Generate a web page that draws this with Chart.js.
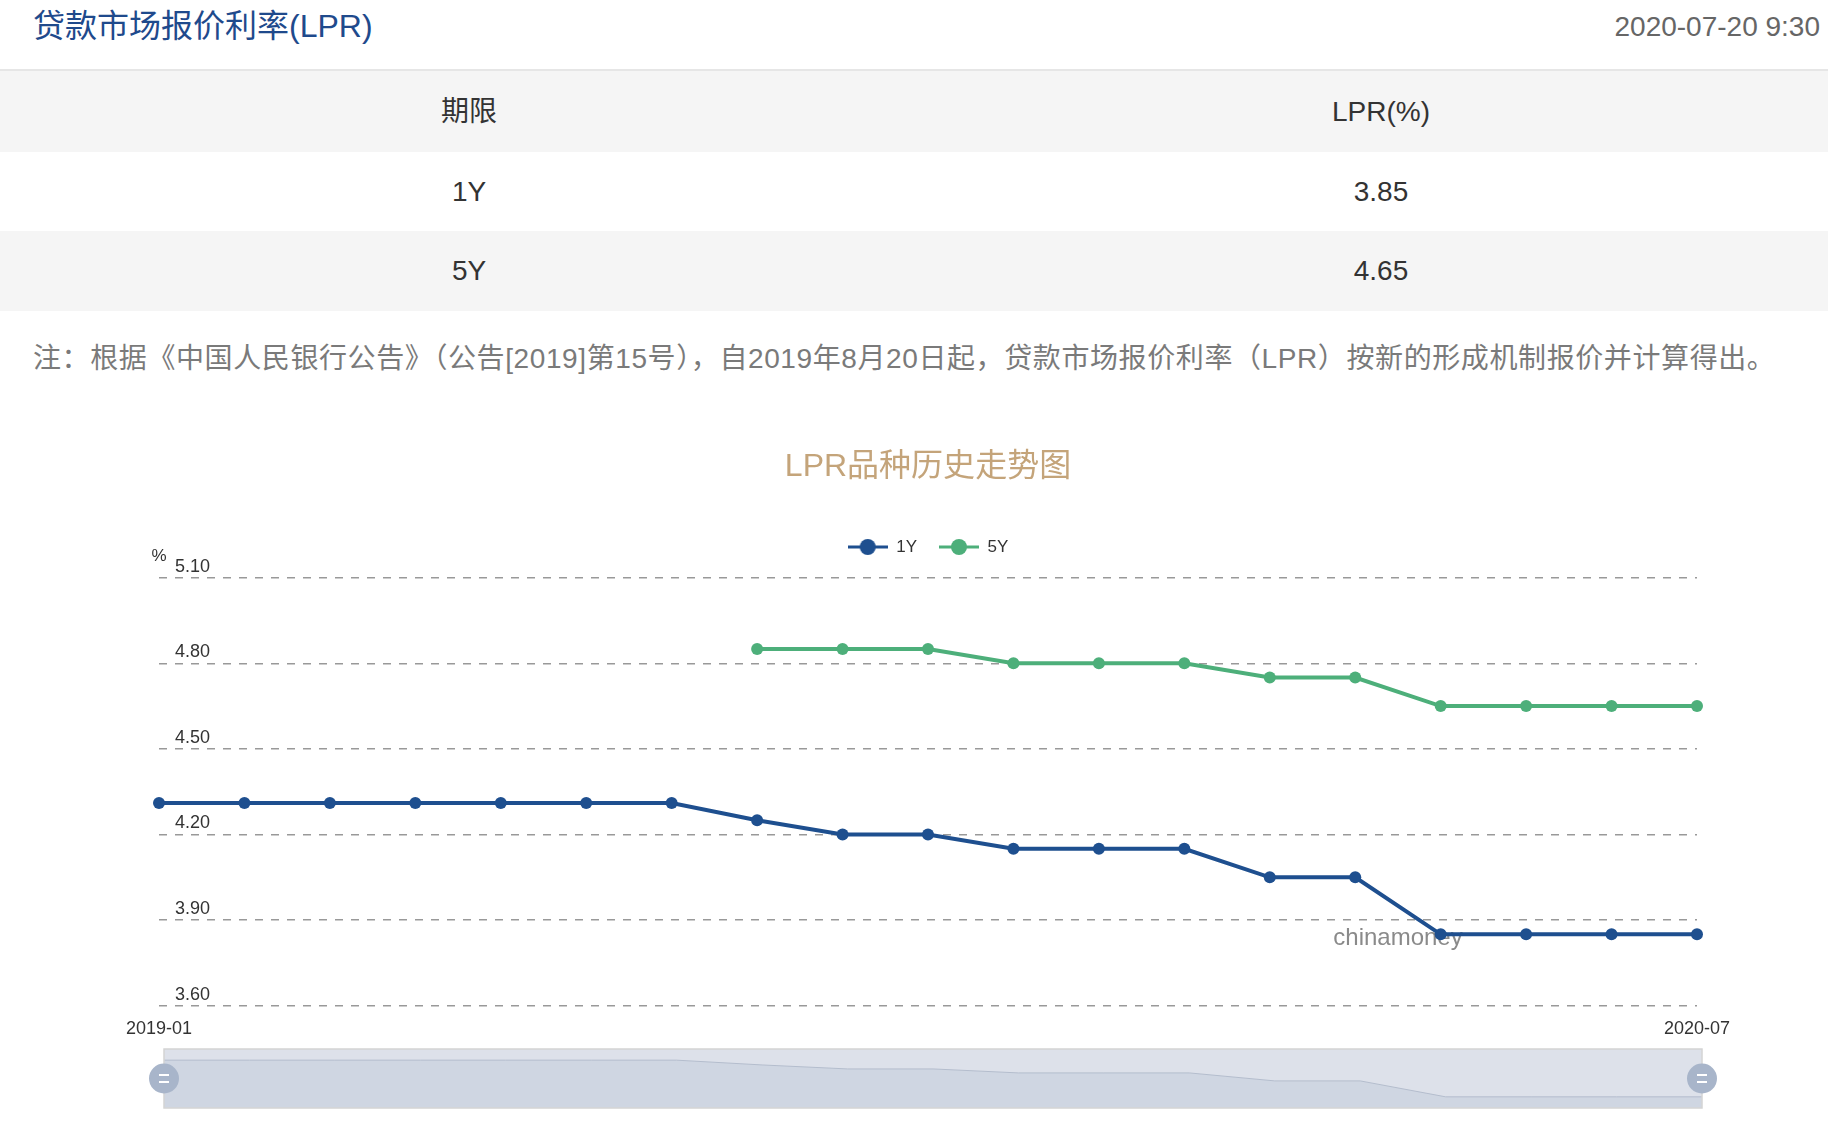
<!DOCTYPE html>
<html><head><meta charset="utf-8">
<script src="https://cdn.jsdelivr.net/npm/chart.js@4.4.0/dist/chart.umd.min.js"></script>
<style>
html,body{margin:0;padding:0;background:#fff;}
body{width:1828px;height:1140px;position:relative;overflow:hidden;font-family:"Liberation Sans","Noto Sans CJK SC",sans-serif;}
.abs{position:absolute;white-space:nowrap;}
.cell{position:absolute;width:912px;text-align:center;font-size:28px;color:#333;}
</style></head><body>
<div class="abs" style="left:33px;top:6px;font-size:32px;line-height:40px;color:#1f4a8c">贷款市场报价利率(LPR)</div>
<div class="abs" style="right:8px;top:7px;font-size:28px;line-height:40px;color:#666">2020-07-20 9:30</div>
<div class="abs" style="left:0;top:69px;width:1828px;height:2px;background:#e6e6e6"></div>
<div class="abs" style="left:0;top:71px;width:1828px;height:81px;background:#f5f5f5"></div>
<div class="abs" style="left:0;top:231px;width:1828px;height:80px;background:#f5f5f5"></div>
<div id="table"></div>
<div class="abs" style="left:33px;top:339px;font-size:28px;line-height:40px;letter-spacing:0.6px;color:#7a7a7a">注：根据《中国人民银行公告》（公告[2019]第15号），自2019年8月20日起，贷款市场报价利率（LPR）按新的形成机制报价并计算得出。</div>
<canvas id="main" width="1828" height="620" style="position:absolute;left:0;top:420px"></canvas>
<canvas id="mini" width="1600" height="90" style="position:absolute;left:134px;top:1034px"></canvas>
<script>
// ---- data ----
const tableHeader = ['期限', 'LPR(%)'];
const tableTerms = ['1Y', '5Y'];
const tableRates = ['3.85', '4.65'];

const months = ['2019-01','2019-02','2019-03','2019-04','2019-05','2019-06','2019-07','2019-08','2019-09','2019-10','2019-11','2019-12','2020-01','2020-02','2020-03','2020-04','2020-05','2020-06','2020-07'];
const lpr1Y = [4.31,4.31,4.31,4.31,4.31,4.31,4.31,4.25,4.20,4.20,4.15,4.15,4.15,4.05,4.05,3.85,3.85,3.85,3.85];
const lpr5Y = [null,null,null,null,null,null,null,4.85,4.85,4.85,4.80,4.80,4.80,4.75,4.75,4.65,4.65,4.65,4.65];
const yTickValues = [3.60,3.90,4.20,4.50,4.80,5.10];
const seriesNames = ['1Y','5Y'];

// ---- table ----
(function(){
  const t = document.getElementById('table');
  const rows = [tableHeader].concat(tableTerms.map((k,i)=>[k, tableRates[i]]));
  const tops = [71,152,231], hs = [81,79,80];
  rows.forEach((r,ri)=>{
    r.forEach((txt,ci)=>{
      const d = document.createElement('div');
      d.className='cell';
      d.style.left = (ci===0?13:925)+'px';
      d.style.top = tops[ri]+'px';
      d.style.height = hs[ri]+'px';
      d.style.lineHeight = hs[ri]+'px';
      d.textContent = txt;
      t.appendChild(d);
    });
  });
})();

const FONT = "'Liberation Sans', 'Noto Sans CJK SC', sans-serif";
Chart.defaults.font.family = FONT;
const BLUE = '#1e4f8f', GREEN = '#4daf7a';

function legendIcon(color){
  const c = document.createElement('canvas'); c.width = 40; c.height = 18;
  const g = c.getContext('2d');
  g.strokeStyle = color; g.lineWidth = 3;
  g.beginPath(); g.moveTo(0,9); g.lineTo(40,9); g.stroke();
  g.fillStyle = color; g.beginPath(); g.arc(20,9,8,0,Math.PI*2); g.fill();
  return c;
}
const icons = [legendIcon(BLUE), legendIcon(GREEN)];

const decor = {
  id:'decor',
  beforeDatasetsDraw(chart){
    const {ctx, chartArea:a} = chart;
    ctx.save();
    ctx.font = '24px ' + FONT; ctx.fillStyle = '#8a8a8a';
    ctx.textAlign = 'center'; ctx.textBaseline = 'alphabetic';
    ctx.fillText('chinamoney', a.left + a.width*0.8056, a.top + a.height*0.858);
    ctx.font = '17px ' + FONT; ctx.fillStyle = '#333';
    ctx.textBaseline = 'middle';
    ctx.fillText('%', a.left, a.top - 21);
    ctx.restore();
  }
};

new Chart(document.getElementById('main'), {
  type:'line',
  data:{
    labels: months,
    datasets:[
      {label: seriesNames[0], data: lpr1Y, borderColor: BLUE, backgroundColor: BLUE, pointBackgroundColor: BLUE, borderWidth:4, pointRadius:6, pointBorderWidth:0, tension:0, fill:false},
      {label: seriesNames[1], data: lpr5Y, borderColor: GREEN, backgroundColor: GREEN, pointBackgroundColor: GREEN, borderWidth:4, pointRadius:6, pointBorderWidth:0, tension:0, fill:false}
    ]
  },
  options:{
    responsive:false, animation:false, events:[],
    layout:{padding:{left:159, right:131, top:0, bottom:0}},
    plugins:{
      tooltip:{enabled:false},
      title:{display:true, text:'LPR品种历史走势图', color:'#c4a47a', font:{size:32, weight:'normal'}, padding:{top:28.1, bottom:30.0}},
      subtitle:{display:true, text:'', font:{size:1, lineHeight:1}, padding:{top:0, bottom:11.2}, weight:500},
      legend:{
        display:true, position:'top',
        labels:{
          usePointStyle:true, pointStyleWidth:40, padding:22, color:'#333', font:{size:17},
          generateLabels(chart){
            return chart.data.datasets.map((ds,i)=>({text: ds.label, pointStyle: icons[i], fillStyle: ds.borderColor, strokeStyle: ds.borderColor, lineWidth:0, hidden: !chart.isDatasetVisible(i), datasetIndex:i, fontColor:'#333'}));
          }
        }
      }
    },
    scales:{
      x:{
        offset:false,
        grid:{display:false, drawTicks:false},
        border:{display:false},
        ticks:{autoSkip:false, maxRotation:0, padding:12.5, color:'#333', font:{size:18},
          callback(v,i){ return (i===0 || i===months.length-1) ? months[i] : ''; }},
        afterFit(s){ s.height = 34.3; }
      },
      y:{
        min:3.6, max:5.1,
        afterBuildTicks(s){ s.ticks = yTickValues.map(v=>({value:v})); },
        grid:{color:'#999', lineWidth:1.5, drawTicks:false},
        border:{display:false, dash:[8,8]},
        ticks:{mirror:true, padding:16, labelOffset:-11, color:'#333', font:{size:18},
          callback(v){ return Number(v).toFixed(2); }},
        afterFit(s){ s.width = 0; }
      }
    }
  },
  plugins:[decor]
});

const sliderDecor = {
  id:'sliderDecor',
  beforeDraw(chart){
    const {ctx, chartArea:a} = chart;
    ctx.save(); ctx.fillStyle = '#dde1ea'; ctx.fillRect(a.left, a.top, a.right-a.left, a.bottom-a.top); ctx.restore();
  },
  afterDraw(chart){
    const {ctx, chartArea:a} = chart;
    ctx.save();
    ctx.strokeStyle = '#d4d4d4'; ctx.lineWidth = 1.5;
    ctx.strokeRect(a.left, a.top, a.right-a.left, a.bottom-a.top);
    const cy = (a.top + a.bottom)/2;
    [a.left, a.right].forEach(x=>{
      ctx.fillStyle = '#a8b5ca';
      ctx.beginPath(); ctx.arc(x, cy, 15, 0, Math.PI*2); ctx.fill();
      ctx.strokeStyle = '#fff'; ctx.lineWidth = 2;
      ctx.beginPath(); ctx.moveTo(x-5, cy-3.5); ctx.lineTo(x+5, cy-3.5);
      ctx.moveTo(x-5, cy+3.5); ctx.lineTo(x+5, cy+3.5); ctx.stroke();
    });
    ctx.restore();
  }
};

new Chart(document.getElementById('mini'), {
  type:'line',
  data:{labels: months, datasets:[{data: lpr1Y, fill:'start', backgroundColor:'#cfd6e2', borderColor:'#b4bdcd', borderWidth:1, pointRadius:0, tension:0}]},
  options:{
    responsive:false, animation:false, events:[],
    layout:{padding:{left:30, right:32, top:15, bottom:16}},
    plugins:{legend:{display:false}, tooltip:{enabled:false}, title:{display:false}},
    scales:{x:{display:false, offset:false}, y:{display:false, min:3.71, max:4.45}}
  },
  plugins:[sliderDecor]
});
</script>
</body></html>
